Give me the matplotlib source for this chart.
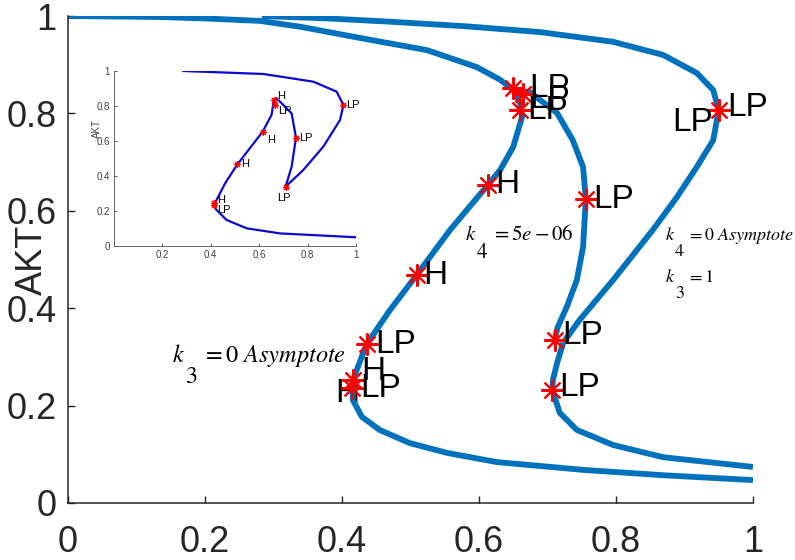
import matplotlib
matplotlib.use('Agg')
import matplotlib.pyplot as plt

plt.rcParams['font.family'] = ['Liberation Sans', 'DejaVu Sans']
plt.rcParams['mathtext.fontset'] = 'stix'

# ---- main diagram: continuation branches (x = parameter, y = AKT) ----
# k4 = 5e-06 branch, top part down to the upper turning points
b1_x = [0.0, 0.134, 0.200, 0.280, 0.339, 0.426, 0.524, 0.597, 0.631, 0.650]
b1_y = [1.0, 0.998, 0.995, 0.990, 0.978, 0.955, 0.930, 0.895, 0.869, 0.848]
# from the upper turning points down the left side and out along the bottom
b2_x = [0.650, 0.660, 0.663, 0.650, 0.631, 0.613, 0.558, 0.509, 0.470, 0.436,
        0.416, 0.415, 0.416, 0.429, 0.455, 0.499, 0.553, 0.626, 0.752, 0.869, 1.0]
b2_y = [0.848, 0.822, 0.793, 0.731, 0.684, 0.653, 0.561, 0.468, 0.396, 0.326,
        0.253, 0.236, 0.211, 0.177, 0.150, 0.123, 0.103, 0.084, 0.068, 0.057, 0.047]
# inner right arc
b3_x = [0.650, 0.674, 0.714, 0.737, 0.752, 0.756, 0.752, 0.743, 0.728, 0.715, 0.711]
b3_y = [0.848, 0.844, 0.801, 0.745, 0.690, 0.624, 0.526, 0.458, 0.402, 0.361, 0.339]
# k4 = 0 asymptote branch (k3 = 1)
b4_x = [0.283, 0.380, 0.474, 0.580, 0.689, 0.796, 0.869, 0.918, 0.942, 0.950, 0.942,
        0.918, 0.889, 0.854, 0.796, 0.747, 0.723]
b4_y = [1.0, 0.995, 0.988, 0.979, 0.967, 0.947, 0.920, 0.883, 0.848, 0.807, 0.745,
        0.690, 0.628, 0.561, 0.458, 0.376, 0.329]
b5_x = [0.723, 0.714, 0.708, 0.707, 0.718, 0.743, 0.796, 0.869, 1.0]
b5_y = [0.329, 0.287, 0.253, 0.232, 0.185, 0.150, 0.119, 0.094, 0.074]

# special points (Hopf / limit points)
pt_x = [0.649, 0.664, 0.660, 0.613, 0.509, 0.436, 0.416, 0.415, 0.756, 0.711, 0.707, 0.950]
pt_y = [0.852, 0.840, 0.807, 0.653, 0.468, 0.326, 0.253, 0.236, 0.624, 0.335, 0.232, 0.807]
pt_lab = ['LP', 'LP', 'LP', 'H', 'H', 'LP', 'H', 'LP', 'LP', 'LP', 'LP', 'LP']
# label offsets in points (style only)
pt_off = [(12, 0), (5, -4), (5, 0), (5, 0), (5, 0), (6, 0), (6, 6), (6, 0),
          (5, 0), (5, 3), (5, 2), (6, 2)]

# parameter annotations: (x, y, subscript, rest, size)
notes = [
    (0.152, 0.290, '3', r'$= 0\ Asymptote$', 17.5),
    (0.580, 0.540, '4', r'$= 5e-06$', 15),
    (0.872, 0.540, '4', r'$= 0\ Asymptote$', 13),
    (0.872, 0.454, '3', r'$= 1$', 13),
]

# ---- inset: original continuation ----
in_x = [0.287, 0.617, 0.824, 0.920, 0.948, 0.934, 0.865, 0.782, 0.709, 0.734,
        0.752, 0.734, 0.672, 0.661, 0.651, 0.614, 0.510, 0.459, 0.424, 0.415,
        0.421, 0.465, 0.548, 0.686, 1.0]
in_y = [1.0, 0.983, 0.939, 0.882, 0.806, 0.720, 0.568, 0.434, 0.339, 0.453,
        0.619, 0.758, 0.844, 0.838, 0.749, 0.653, 0.467, 0.358, 0.263, 0.240,
        0.210, 0.149, 0.101, 0.072, 0.050]
in_pt_x = [0.663, 0.665, 0.614, 0.510, 0.752, 0.948, 0.709, 0.415, 0.415]
in_pt_y = [0.835, 0.805, 0.653, 0.467, 0.619, 0.806, 0.339, 0.245, 0.232]
in_pt_lab = ['H', 'LP', 'H', 'H', 'LP', 'LP', 'LP', 'H', 'LP']
in_off = [(2, 3), (2, -4), (3, -6), (3, 0), (2, 0), (2, 0), (-6, -8), (2, 2), (2, -3)]

ticks = [0, 0.2, 0.4, 0.6, 0.8, 1]
tick_txt = ['0', '0.2', '0.4', '0.6', '0.8', '1']

blue = '#0072BD'
dark = '#262626'

fig = plt.figure(figsize=(7.95, 5.6), dpi=100)
ax = fig.add_axes([0.0855, 0.1018, 0.8616, 0.8696])
for bx, by in [(b1_x, b1_y), (b2_x, b2_y), (b3_x, b3_y), (b4_x, b4_y), (b5_x, b5_y)]:
    ax.plot(bx, by, color=blue, lw=4.2, solid_joinstyle='round', solid_capstyle='butt', zorder=2)
ax.plot(pt_x, pt_y, ls='none', marker=(8, 2, 0), ms=16, mew=1.5, color='red', zorder=3)
for x, y, s, off in zip(pt_x, pt_y, pt_lab, pt_off):
    ax.annotate(s, (x, y), xytext=off, textcoords='offset points',
                ha='left', va='center', fontsize=24, color='black', zorder=4)
# overlapping labels drawn on the left of two points
ax.annotate('H', (pt_x[7], pt_y[7]), xytext=(-12, -4), textcoords='offset points',
            ha='left', va='center', fontsize=24, zorder=1.5)
ax.annotate('LP', (pt_x[11], pt_y[11]), xytext=(-4, -9), textcoords='offset points',
            ha='right', va='center', fontsize=24, zorder=4)

# k_i annotations in MATLAB tex style (deep subscript)
for x, y, sub, rest, fs in notes:
    ax.annotate(r'$k$', (x, y), fontsize=fs, ha='left', va='baseline', annotation_clip=False)
    ax.annotate(sub, (x, y), xytext=(0.55 * fs, -0.88 * fs), textcoords='offset points',
                fontsize=fs, ha='left', va='baseline', family='STIXGeneral',
                annotation_clip=False)
    ax.annotate(rest, (x, y), xytext=(1.22 * fs, 0), textcoords='offset points',
                fontsize=fs, ha='left', va='baseline', annotation_clip=False)

ax.set_xlim(0, 1)
ax.set_ylim(0, 1)
ax.set_xticks(ticks)
ax.set_xticklabels(tick_txt)
ax.set_yticks(ticks)
ax.set_yticklabels(tick_txt)
ax.spines['top'].set_visible(False)
ax.spines['right'].set_visible(False)
for sp in ['left', 'bottom']:
    ax.spines[sp].set_color(dark)
    ax.spines[sp].set_linewidth(1.1)
ax.tick_params(direction='in', length=5, width=1, colors=dark, labelsize=26)
ax.tick_params(axis='x', pad=16)
ax.tick_params(axis='y', pad=8)
ax.set_ylabel('AKT', fontsize=26, color=dark)
ax.yaxis.set_label_coords(-0.026, 0.5)

# inset
axin = fig.add_axes([0.1434, 0.5607, 0.3044, 0.3125])
axin.plot(in_x, in_y, color='#0a0ad0', lw=1.6, zorder=2)
axin.plot(in_pt_x, in_pt_y, ls='none', marker=(8, 2, 0), ms=5, mew=0.8, color='red', zorder=3)
for x, y, s, off in zip(in_pt_x, in_pt_y, in_pt_lab, in_off):
    axin.annotate(s, (x, y), xytext=off, textcoords='offset points',
                  ha='left', va='center', fontsize=8, zorder=4)
axin.set_xlim(0, 1)
axin.set_ylim(0, 1)
axin.set_xticks(ticks[1:])
axin.set_xticklabels(tick_txt[1:])
axin.set_yticks(ticks)
axin.set_yticklabels(tick_txt)
axin.spines['top'].set_visible(False)
axin.spines['right'].set_visible(False)
for sp in ['left', 'bottom']:
    axin.spines[sp].set_color('#505050')
    axin.spines[sp].set_linewidth(0.6)
axin.tick_params(direction='in', length=2.5, width=0.6, colors='#404040', labelsize=7, pad=3)
axin.set_ylabel('AKT', fontsize=7, color='#404040')
axin.yaxis.set_label_coords(-0.05, 0.67)
axin.patch.set_alpha(0)

plt.savefig('out.png', dpi=100)
